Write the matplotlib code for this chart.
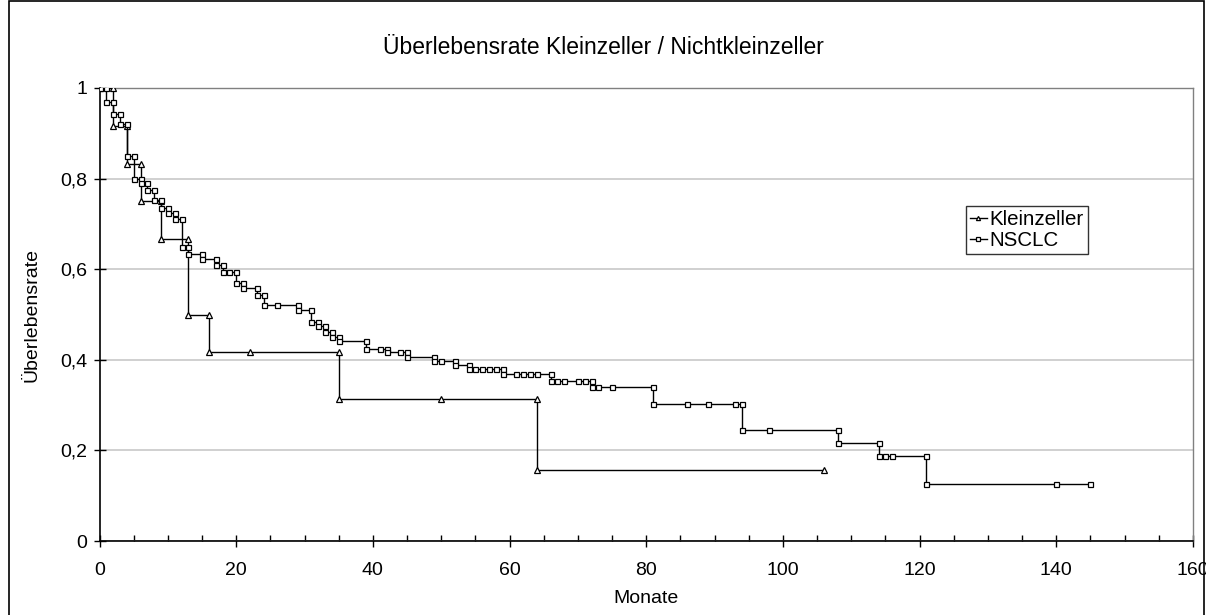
import matplotlib
matplotlib.use("Agg")
import matplotlib.pyplot as plt
from matplotlib.ticker import MultipleLocator, FuncFormatter
from matplotlib.patches import Rectangle

plt.rcParams['font.family'] = ['Liberation Sans', 'DejaVu Sans']

title = "Überlebensrate Kleinzeller / Nichtkleinzeller"
x_label = "Monate"
y_label = "Überlebensrate"
series_names = ["Kleinzeller", "NSCLC"]

# Kleinzeller (step vertices as plotted)
klein_t = [0, 2, 2, 4, 4, 6, 6, 9, 9, 13, 13, 16, 16, 22, 35, 35, 50, 64, 64, 106]
klein_s = [1, 1, 0.917, 0.917, 0.833, 0.833, 0.75, 0.75, 0.667, 0.667, 0.5, 0.5,
           0.417, 0.417, 0.417, 0.3125, 0.3125, 0.3125, 0.156, 0.156]

# NSCLC (step vertices as plotted)
nsclc_t = [0, 1, 1, 2, 2, 3, 3, 4, 4, 5, 5, 6, 6, 7, 7, 8, 8, 9, 9, 10, 10, 11, 11, 12,
           12, 13, 13, 15, 15, 17, 17, 18, 18, 19, 20, 20, 21, 21, 23, 23, 24, 24, 26, 29,
           29, 31, 31, 32, 32, 33, 33, 34, 34, 35, 35, 39, 39, 41, 42, 42, 44, 45, 45, 49,
           49, 50, 52, 52, 54, 54, 55, 56, 57, 58, 59, 59, 61, 62, 63, 64, 66, 66, 67, 68,
           70, 71, 72, 72, 73, 75, 81, 81, 86, 89, 93, 94, 94, 98, 108, 108, 114, 114, 115,
           116, 121, 121, 140, 145]
nsclc_s = [1, 1, 0.97, 0.97, 0.942, 0.942, 0.92, 0.92, 0.85, 0.85, 0.80, 0.80, 0.79, 0.79,
           0.775, 0.775, 0.752, 0.752, 0.735, 0.735, 0.725, 0.725, 0.71, 0.71, 0.65, 0.65,
           0.633, 0.633, 0.622, 0.622, 0.609, 0.609, 0.593, 0.593, 0.593, 0.569, 0.569,
           0.558, 0.558, 0.542, 0.542, 0.52, 0.52, 0.52, 0.51, 0.51, 0.484, 0.484, 0.475,
           0.475, 0.461, 0.461, 0.451, 0.451, 0.441, 0.441, 0.424, 0.424, 0.424, 0.417,
           0.417, 0.417, 0.406, 0.406, 0.397, 0.397, 0.397, 0.389, 0.389, 0.38, 0.38, 0.38,
           0.38, 0.38, 0.38, 0.369, 0.369, 0.369, 0.369, 0.369, 0.369, 0.353, 0.353, 0.353,
           0.353, 0.353, 0.353, 0.34, 0.34, 0.34, 0.34, 0.302, 0.302, 0.302, 0.302, 0.302,
           0.245, 0.245, 0.245, 0.216, 0.216, 0.187, 0.187, 0.187, 0.187, 0.125, 0.125, 0.125]

fig = plt.figure(figsize=(12.06, 6.15), dpi=100)
ax = fig.add_axes([99.5 / 1206, 1 - 541 / 615, (1193 - 99.5) / 1206, (541 - 88) / 615])

ax.plot(klein_t, klein_s, color='black', lw=1.0, marker='^', ms=5, mfc='white',
        mec='black', mew=0.9, label=series_names[0], zorder=3)
ax.plot(nsclc_t, nsclc_s, color='black', lw=1.0, marker='s', ms=3.6, mfc='white',
        mec='black', mew=0.9, label=series_names[1], zorder=4)

ax.set_xlim(0, 160)
ax.set_ylim(0, 1)
ax.xaxis.set_major_locator(MultipleLocator(20))
ax.xaxis.set_minor_locator(MultipleLocator(5))
ax.yaxis.set_major_locator(MultipleLocator(0.2))
ax.yaxis.set_major_formatter(FuncFormatter(lambda v, p: ('%g' % round(v, 1)).replace('.', ',')))
ax.tick_params(axis='both', which='major', direction='inout', length=8, width=1,
               labelsize=14, color='black')
ax.tick_params(axis='x', which='major', pad=11)
ax.tick_params(axis='y', which='major', pad=5)
ax.tick_params(axis='x', which='minor', direction='in', length=4, width=1)
ax.grid(axis='y', which='major', color='#c8c8c8', lw=1.2, zorder=0)
for side in ['top', 'right']:
    ax.spines[side].set_color('#808080')
    ax.spines[side].set_linewidth(1.0)
for side in ['left', 'bottom']:
    ax.spines[side].set_color('black')
    ax.spines[side].set_linewidth(1.2)

ax.set_xlabel(x_label, fontsize=14, labelpad=8)
ax.set_ylabel(y_label, fontsize=14, labelpad=14)
fig.text(0.5, 1 - 48 / 615, title, ha='center', va='center', fontsize=16.5)

leg = ax.legend(loc='upper left', bbox_to_anchor=((966 - 99.5) / 1093.5, (541 - 206) / 453),
                frameon=True, fancybox=False, edgecolor='black', fontsize=14.8,
                handlelength=0.8, handletextpad=0.15, borderpad=0.2, labelspacing=0.1,
                borderaxespad=0)
leg.get_frame().set_linewidth(1.0)
for h in leg.legend_handles:
    h.set_markersize(3)

fig.patches.append(Rectangle((9 / 1206, -0.01), (1204 - 9) / 1206, 1 - 1 / 615 + 0.01,
                             transform=fig.transFigure, fill=False, edgecolor='black', lw=1.2))

fig.savefig('out.png', dpi=100)
